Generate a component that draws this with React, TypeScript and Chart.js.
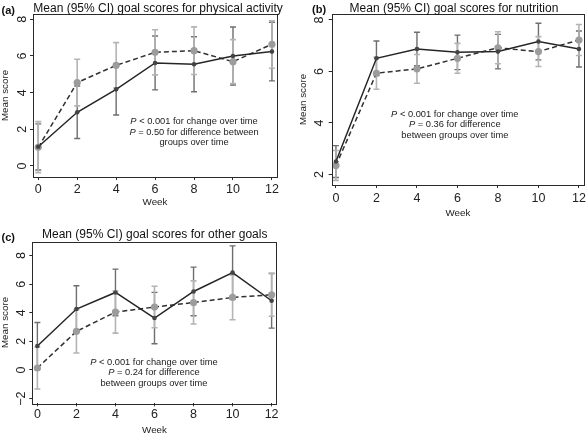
import React, { useEffect, useRef } from 'react';
import { Chart, registerables } from 'chart.js';

Chart.register(...registerables);

const FONT = '"Liberation Sans", Arial, Helvetica, sans-serif';

// ---- shared ----
const weeks = [0, 2, 4, 6, 8, 10, 12];

// ---- (a) physical activity ----
const paTicksY = [0, 2, 4, 6, 8];
const paSolid = [1.05, 2.93, 4.18, 5.62, 5.55, 6.0, 6.24];
const paSolidLo = [-0.22, 1.5, 2.78, 4.15, 4.05, 4.42, 4.64];
const paSolidHi = [2.3, 4.36, 5.58, 7.09, 7.05, 7.58, 7.84];
const paDashed = [1.02, 4.55, 5.49, 6.2, 6.29, 5.69, 6.64];
const paDashedLo = [-0.36, 3.28, 4.25, 4.97, 4.99, 4.49, 5.33];
const paDashedHi = [2.42, 5.82, 6.73, 7.43, 7.59, 6.89, 7.92];

// ---- (b) nutrition ----
const nuTicksY = [2, 4, 6, 8];
const nuSolid = [2.5, 6.51, 6.87, 6.74, 6.77, 7.16, 6.87];
const nuSolidLo = [1.88, 5.84, 6.22, 6.07, 6.1, 6.45, 6.17];
const nuSolidHi = [3.12, 7.18, 7.52, 7.41, 7.44, 7.87, 7.57];
const nuDashed = [2.35, 5.93, 6.1, 6.51, 6.92, 6.77, 7.22];
const nuDashedLo = [1.77, 5.31, 5.54, 5.93, 6.3, 6.19, 6.62];
const nuDashedHi = [2.93, 6.55, 6.66, 7.09, 7.54, 7.35, 7.82];

// ---- (c) other goals ----
const otTicksY = [-2, 0, 2, 4, 6, 8];
const otSolid = [1.68, 4.26, 5.42, 3.63, 5.49, 6.81, 4.84];
const otSolidLo = [0.04, 2.63, 3.79, 1.83, 3.79, 4.94, 2.93];
const otSolidHi = [3.32, 5.89, 7.05, 5.43, 7.19, 8.68, 6.75];
const otDashed = [0.14, 2.7, 4.05, 4.4, 4.72, 5.07, 5.26];
const otDashedLo = [-1.33, 1.19, 2.58, 2.95, 3.21, 3.51, 3.76];
const otDashedHi = [1.61, 4.21, 5.52, 5.85, 6.23, 6.63, 6.76];

const annLine1 = ' < 0.001 for change over time';

type PanelDef = {
  tag: string;
  title: string;
  yTicks: number[];
  solid: number[]; solidLo: number[]; solidHi: number[];
  dashed: number[]; dashedLo: number[]; dashedHi: number[];
  ann: string[];
  annAt: [number, number];
  xRange: [number, number];
  yRange: [number, number];
  canvas: { left: number; top: number; w: number; h: number };
  area: { l: number; r: number; t: number; b: number };
  titlePos: [number, number];
  tagPos: [number, number];
  yLabelX: number;
  xLabelY: number;
  yTitleX: number;
  xTitleY: number;
};

const panels: PanelDef[] = [
  {
    tag: '(a)', title: 'Mean (95% CI) goal scores for physical activity', yTicks: paTicksY,
    solid: paSolid, solidLo: paSolidLo, solidHi: paSolidHi,
    dashed: paDashed, dashedLo: paDashedLo, dashedHi: paDashedHi,
    ann: [annLine1, ' = 0.50 for difference between', 'groups over time'], annAt: [8, 2.42],
    xRange: [-0.27, 12.26], yRange: [-0.6, 8.29],
    canvas: { left: 0, top: 0, w: 294, h: 215 }, area: { l: 33, r: 277, t: 14, b: 177 },
    titlePos: [158, 9], tagPos: [1.5, 11], yLabelX: 22.7, xLabelY: 189.3, yTitleX: 5, xTitleY: 202.7,
  },
  {
    tag: '(b)', title: 'Mean (95% CI) goal scores for nutrition', yTicks: nuTicksY,
    solid: nuSolid, solidLo: nuSolidLo, solidHi: nuSolidHi,
    dashed: nuDashed, dashedLo: nuDashedLo, dashedHi: nuDashedHi,
    ann: [annLine1, ' = 0.36 for difference', 'between groups over time'], annAt: [5.87, 4.34],
    xRange: [-0.21, 12.25], yRange: [1.59, 8.23],
    canvas: { left: 296, top: 0, w: 292, h: 222 }, area: { l: 331.7, r: 586, t: 14, b: 185 },
    titlePos: [454, 8.5], tagPos: [312, 10], yLabelX: 320, xLabelY: 198.3, yTitleX: 303.3, xTitleY: 213.3,
  },
  {
    tag: '(c)', title: 'Mean (95% CI) goal scores for other goals', yTicks: otTicksY,
    solid: otSolid, solidLo: otSolidLo, solidHi: otSolidHi,
    dashed: otDashed, dashedLo: otDashedLo, dashedHi: otDashedHi,
    ann: [annLine1, ' = 0.24 for difference', 'between groups over time'], annAt: [5.97, 0.54],
    xRange: [-0.26, 12.26], yRange: [-2.33, 8.97],
    canvas: { left: 0, top: 226, w: 294, h: 212 }, area: { l: 32.3, r: 276.7, t: 241.7, b: 403.3 },
    titlePos: [154.7, 234.3], tagPos: [1.5, 238.3], yLabelX: 21.7, xLabelY: 415, yTitleX: 5, xTitleY: 430.7,
  },
];

const fmt = (v: number) => (v < 0 ? '\u2212' + Math.abs(v) : String(v));

function Panel({ def }: { def: PanelDef }) {
  const ref = useRef<HTMLCanvasElement>(null);
  useEffect(() => {
    const el = ref.current!;
    const cv = def.canvas;
    const left = def.area.l - cv.left;
    const right = def.area.r - cv.left;
    const top = def.area.t - cv.top;
    const bottom = def.area.b - cv.top;
    const TL = 3;
    const tickSize = 12.5;
    const axSize = 9.8;
    const axLH = axSize * 1.2;
    const mc = document.createElement('canvas').getContext('2d')!;
    mc.font = `${tickSize}px ${FONT}`;
    const widest = Math.max(...def.yTicks.map((v) => mc.measureText(fmt(v)).width));
    const yPad = left - TL - widest / 2 - (def.yLabelX - cv.left);
    const xPad = def.xLabelY - def.area.b - TL - (tickSize * 1.2) / 2;
    const yTitlePad = def.yTitleX - cv.left - axLH / 2;
    const xTitlePad = cv.h - axLH / 2 - (def.xTitleY - cv.top);

    const bars = [
      { lo: def.solidLo, hi: def.solidHi, color: '#6e6e6e', width: 1.4 },
      { lo: def.dashedLo, hi: def.dashedHi, color: '#b4b4b4', width: 1.6 },
    ];

    const deco = {
      id: 'deco',
      beforeDatasetsDraw(chart: any) {
        const { ctx } = chart;
        const xs = chart.scales.x;
        const ys = chart.scales.y;
        const cap = 3;
        bars.forEach((b) => {
          ctx.save();
          ctx.strokeStyle = b.color;
          ctx.lineWidth = b.width;
          weeks.forEach((w, i) => {
            const px = xs.getPixelForValue(w);
            const y1 = ys.getPixelForValue(b.lo[i]);
            const y2 = ys.getPixelForValue(b.hi[i]);
            ctx.beginPath();
            ctx.moveTo(px, y1); ctx.lineTo(px, y2);
            ctx.moveTo(px - cap, y1); ctx.lineTo(px + cap, y1);
            ctx.moveTo(px - cap, y2); ctx.lineTo(px + cap, y2);
            ctx.stroke();
          });
          ctx.restore();
        });
      },
      afterDraw(chart: any) {
        const { ctx, chartArea } = chart;
        const xs = chart.scales.x;
        const ys = chart.scales.y;
        ctx.save();
        ctx.strokeStyle = '#2a2a2a';
        ctx.lineWidth = 1;
        ctx.strokeRect(
          Math.round(chartArea.left) + 0.5, Math.round(chartArea.top) + 0.5,
          Math.round(chartArea.right - chartArea.left), Math.round(chartArea.bottom - chartArea.top));
        // title
        ctx.fillStyle = '#111';
        ctx.textBaseline = 'middle';
        ctx.textAlign = 'center';
        ctx.font = `12px ${FONT}`;
        ctx.fillText(def.title, def.titlePos[0] - cv.left, def.titlePos[1] - cv.top);
        ctx.textAlign = 'left';
        ctx.font = `bold 11px ${FONT}`;
        ctx.fillText(def.tag, def.tagPos[0] - cv.left, def.tagPos[1] - cv.top);
        // annotation
        const ax = xs.getPixelForValue(def.annAt[0]);
        const ay = ys.getPixelForValue(def.annAt[1]);
        ctx.fillStyle = '#222';
        const fs = 9.3;
        def.ann.forEach((t, i) => {
          const y = ay + i * 10.6;
          const hasP = i < 2;
          ctx.font = `italic ${fs}px ${FONT}`;
          const pw = hasP ? ctx.measureText('P').width : 0;
          ctx.font = `${fs}px ${FONT}`;
          const tw = ctx.measureText(t).width;
          const x0 = ax - (pw + tw) / 2;
          if (hasP) {
            ctx.font = `italic ${fs}px ${FONT}`;
            ctx.fillText('P', x0, y);
          }
          ctx.font = `${fs}px ${FONT}`;
          ctx.fillText(t, x0 + pw, y);
        });
        ctx.restore();
      },
    };

    const chart = new Chart(el, {
      type: 'line',
      data: {
        datasets: [
          {
            label: 'solid',
            data: weeks.map((w, i) => ({ x: w, y: def.solid[i] })),
            borderColor: '#262626', borderWidth: 1.5, tension: 0,
            pointRadius: 2.3, pointBackgroundColor: '#444', pointBorderWidth: 0,
          },
          {
            label: 'dashed',
            data: weeks.map((w, i) => ({ x: w, y: def.dashed[i] })),
            borderColor: '#303030', borderWidth: 1.5, borderDash: [5, 3], tension: 0,
            pointRadius: 3.6, pointBackgroundColor: '#9c9c9c', pointBorderWidth: 0,
          },
        ],
      },
      options: {
        animation: false,
        responsive: false,
        maintainAspectRatio: false,
        layout: { padding: { left: 0, top, right: cv.w - right, bottom: 0 } },
        plugins: { legend: { display: false }, tooltip: { enabled: false }, title: { display: false } },
        scales: {
          x: {
            type: 'linear', min: def.xRange[0], max: def.xRange[1],
            afterBuildTicks: (s: any) => { s.ticks = weeks.map((v) => ({ value: v })); },
            afterFit: (s: any) => { s.height = cv.h - bottom; s.paddingLeft = 0; s.paddingRight = 0; },
            grid: { display: true, drawOnChartArea: false, drawTicks: true, tickLength: TL, color: '#2a2a2a', lineWidth: 1 },
            border: { display: false },
            ticks: { padding: xPad, autoSkip: false, maxRotation: 0, font: { size: tickSize, family: FONT }, color: '#222' },
            title: { display: true, text: 'Week', color: '#222', font: { size: axSize, family: FONT }, padding: { top: 0, bottom: xTitlePad } },
          },
          y: {
            type: 'linear', min: def.yRange[0], max: def.yRange[1],
            afterBuildTicks: (s: any) => { s.ticks = def.yTicks.map((v) => ({ value: v })); },
            afterFit: (s: any) => { s.width = left; s.paddingTop = 0; s.paddingBottom = 0; },
            grid: { display: true, drawOnChartArea: false, drawTicks: true, tickLength: TL, color: '#2a2a2a', lineWidth: 1 },
            border: { display: false },
            ticks: {
              padding: yPad, autoSkip: false, minRotation: 90, maxRotation: 90, crossAlign: 'center',
              font: { size: tickSize, family: FONT }, color: '#222',
              callback: (v: any) => fmt(Number(v)),
            },
            title: { display: true, text: 'Mean score', color: '#222', font: { size: axSize, family: FONT }, padding: { top: yTitlePad, bottom: 0 } },
          },
        },
      },
      plugins: [deco],
    } as any);
    return () => chart.destroy();
  }, [def]);
  const cv = def.canvas;
  return (
    <canvas
      ref={ref}
      width={cv.w}
      height={cv.h}
      style={{ position: 'absolute', left: cv.left, top: cv.top, width: cv.w, height: cv.h }}
    />
  );
}

export default function App() {
  return (
    <div style={{ position: 'fixed', left: 0, top: 0, width: 588, height: 438, overflow: 'hidden', background: '#fff' }}>
      {panels.map((p) => (
        <Panel key={p.tag} def={p} />
      ))}
    </div>
  );
}
